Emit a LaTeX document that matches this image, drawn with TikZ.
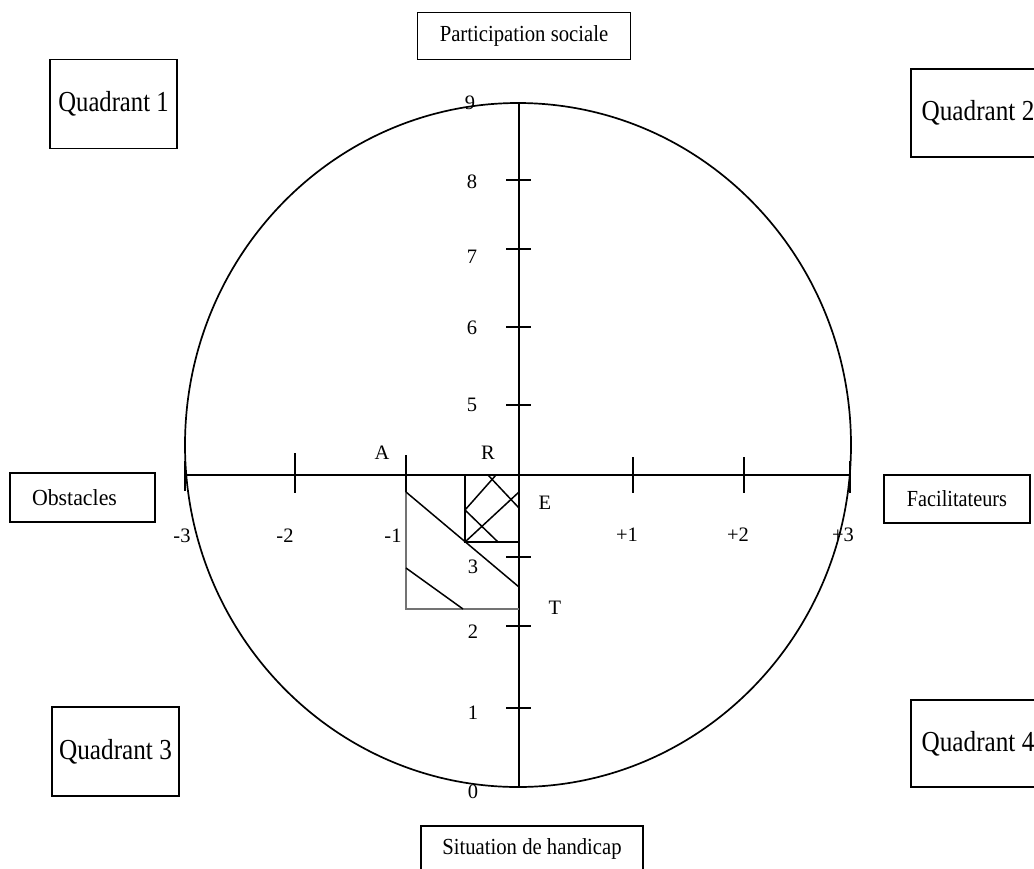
\documentclass[tikz,border=0pt]{standalone}
\usepackage{fontspec}
\setmainfont{Liberation Serif}
\newcommand{\narrowtxt}[2]{\scalebox{#1}[1]{#2}}
\begin{document}
\begin{tikzpicture}[x=1pt,y=-1pt,
  box/.style={draw, line width=1.8pt, inner sep=0pt, font=\fontsize{23}{26}\selectfont},
  quad/.style={draw, line width=1.8pt, inner sep=0pt, font=\fontsize{29}{32}\selectfont},
  num/.style={font=\fontsize{20.5}{22}\selectfont, inner sep=0pt},
  ax/.style={line width=1.7pt},
  tk/.style={line width=1.7pt},
  hatch/.style={line width=1.5pt},
  faint/.style={line width=1.2pt, black!55}]
\useasboundingbox (0,0) rectangle (1034,868);
% circle and axes
\draw[ax] (518,445) ellipse [x radius=333pt, y radius=342pt];
\coordinate (top) at (519,103);
\coordinate (bot) at (519,787);
\coordinate (lft) at (185,475);
\coordinate (rgt) at (850,475);
\draw[ax] (top) -- (bot);
\draw[ax] (lft) -- (rgt);
% vertical ticks
\foreach \yy in {180,249,327,405,557,626,708}
  \draw[tk] (506,\yy) -- (531,\yy);
% horizontal ticks
\draw[tk] (185,461) -- (185,491);
\draw[tk] (295,453) -- (295,493);
\draw[tk] (406,455) -- (406,492);
\draw[tk] (633,457) -- (633,493);
\draw[tk] (744,457) -- (744,493);
\draw[tk] (850,461) -- (850,493);
% hatched areas
\draw[faint] (406,492) -- (406,609) -- (519,609);
\draw[hatch] (406,492) -- (519,587);
\draw[hatch] (406,568) -- (463,609);
\draw[hatch] (465,475) -- (465,542) -- (519,542);
\draw[hatch] (465,510) -- (496,475);
\draw[hatch] (465,542) -- (519,492);
\draw[hatch] (488,475) -- (519,508);
\draw[hatch] (465,510) -- (498,542);
% vertical labels
\node[num] (n9) at (470,103) {9};
\node[num] (n8) at (472,182) {8};
\node[num] (n7) at (472,257) {7};
\node[num] (n6) at (472,328) {6};
\node[num] (n5) at (472,405) {5};
\node[num] (n3) at (473,567) {3};
\node[num] (n2) at (473,632) {2};
\node[num] (n1) at (473,713) {1};
\node[num] (n0) at (473,792) {0};
% horizontal labels
\node[num] (m3) at (182,536) {-3};
\node[num] (m2) at (285,536) {-2};
\node[num] (m1) at (393,536) {-1};
\node[num] (p1) at (627,535) {+1};
\node[num] (p2) at (738,535) {+2};
\node[num] (p3) at (843,535) {+3};
% letters
\node[num] (lA) at (382,453) {A};
\node[num] (lR) at (488,453) {R};
\node[num] (lE) at (545,503) {E};
\node[num] (lT) at (555,608) {T};
% boxes
\node[box, minimum width=213pt, minimum height=47pt] (ps) at (524,36) {\narrowtxt{0.9}{Participation sociale}};
\node[box, minimum width=222pt, minimum height=46pt] (sh) at (532,849) {\narrowtxt{0.9}{Situation de handicap}};
\node[box, text width=101pt, inner xsep=22pt, minimum height=49pt, align=left] (ob) at (82.5,497.5) {\narrowtxt{0.95}{Obstacles}};
\node[box, minimum width=146pt, minimum height=48pt] (fa) at (957,499) {\narrowtxt{0.88}{Facilitateurs}};
\node[quad, minimum width=127pt, minimum height=89pt] (q1) at (113.5,104) {\narrowtxt{0.85}{Quadrant 1}};
\node[quad, minimum width=134pt, minimum height=88pt] (q2) at (978,113) {\narrowtxt{0.87}{Quadrant 2}};
\node[quad, minimum width=127pt, minimum height=89pt] (q3) at (115.5,751.5) {\narrowtxt{0.87}{Quadrant 3}};
\node[quad, minimum width=134pt, minimum height=87pt] (q4) at (978,743.5) {\narrowtxt{0.87}{Quadrant 4}};
\end{tikzpicture}
\end{document}
